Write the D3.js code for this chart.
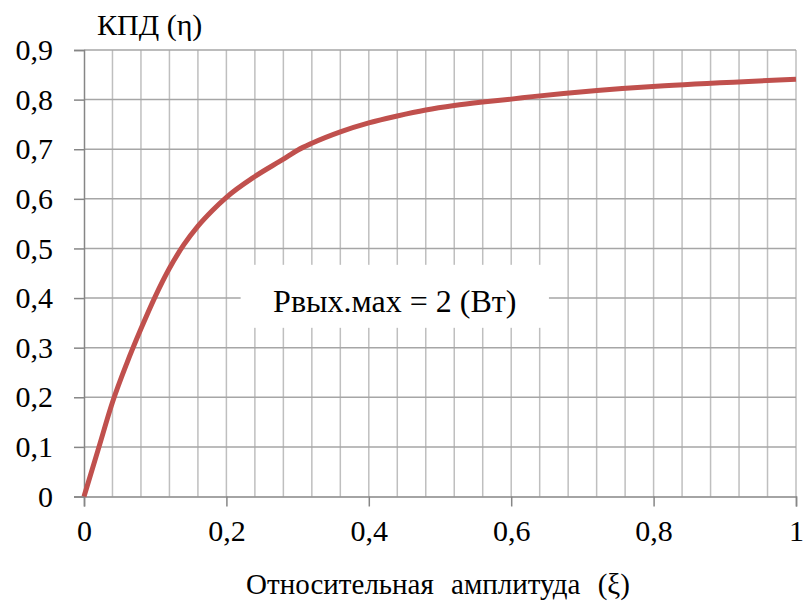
<!DOCTYPE html>
<html>
<head>
<meta charset="UTF-8">
<script src="https://d3js.org/d3.v7.min.js"></script>
</head>
<body style="margin:0">
<script>
    const width = 803;
    const height = 607;
    const FONT = "'Times New Roman'";

    // relative amplitude (xi) and efficiency (eta)
    const xi  = [0, 0.02, 0.04, 0.06, 0.08, 0.10, 0.12, 0.14, 0.16, 0.18, 0.20, 0.24, 0.28, 0.30,
                 0.32, 0.36, 0.40, 0.44, 0.48, 0.52, 0.56, 0.60, 0.63, 1.00];
    const eta = [0, 0.095, 0.19, 0.268, 0.338, 0.403, 0.46, 0.507, 0.545, 0.576, 0.603, 0.645, 0.68, 0.698,
                 0.712, 0.735, 0.753, 0.767, 0.779, 0.788, 0.795, 0.801, 0.806, 0.841];

    const xTicks = [0, 0.2, 0.4, 0.6, 0.8, 1];
    const yTicks = [0, 0.1, 0.2, 0.3, 0.4, 0.5, 0.6, 0.7, 0.8, 0.9];
    const xGrid = d3.range(1, 26).map(i => i * 0.04);

    const yTitle = "КПД (η)";
    const xTitle = "Относительная амплитуда (ξ)";
    const note = "Рвых.мах = 2 (Вт)";

    const fmt = v => String(v).replace(".", ",");

    const x = d3.scaleLinear().domain([0, 1]).range([84, 796]);
    const y = d3.scaleLinear().domain([0, 0.9]).range([496.5, 50]);

    const svg = d3.select("body").append("svg")
            .attr("width", width).attr("height", height);

    // grid
    svg.selectAll("line.grid-v")
        .data(xGrid)
        .enter().append("line")
        .attr("class", "grid-v")
        .attr("stroke", "#bfbfbf").attr("stroke-width", 1.5)
        .attr("x1", d => x(d)).attr("x2", d => x(d))
        .attr("y1", y(0)).attr("y2", y(0.9));

    svg.selectAll("line.grid-h")
        .data(yTicks.slice(1))
        .enter().append("line")
        .attr("class", "grid-h")
        .attr("stroke", "#a6a6a6").attr("stroke-width", 1.5)
        .attr("x1", x(0)).attr("x2", x(1))
        .attr("y1", d => y(d)).attr("y2", d => y(d));

    // axes
    const yAxis = svg.append("g").attr("transform", `translate(${x(0)},0)`)
        .call(d3.axisLeft(y).tickValues(yTicks).tickSize(10).tickFormat(fmt));
    const xAxis = svg.append("g").attr("transform", `translate(0,${y(0)})`)
        .call(d3.axisBottom(x).tickValues(xTicks).tickSize(10).tickFormat(fmt));

    [yAxis, xAxis].forEach(g => {
        g.attr("font-family", FONT).attr("font-size", 30);
        g.select(".domain").attr("stroke", "#868686").attr("stroke-width", 1.5);
        g.selectAll(".tick line").attr("stroke", "#868686").attr("stroke-width", 1.5);
        g.selectAll("text").attr("fill", "#000");
    });
    yAxis.selectAll("text").attr("x", -31).attr("dy", "0.32em");
    xAxis.selectAll("text").attr("y", 22).attr("dy", "0.75em");

    // note box
    const bx = x(0.22), bw = x(0.653) - x(0.22);
    svg.append("rect")
        .attr("x", bx).attr("y", y(0.467))
        .attr("width", bw).attr("height", y(0.34) - y(0.467))
        .attr("fill", "#fff");
    svg.append("text")
        .attr("x", bx + bw / 2).attr("y", y(0.372))
        .attr("text-anchor", "middle")
        .attr("font-family", FONT)
        .attr("font-size", 32)
        .text(note);

    // curve
    const line = d3.line()
        .x(d => x(d[0]))
        .y(d => y(d[1]))
        .curve(d3.curveMonotoneX);

    svg.append("path")
        .datum(xi.map((v, i) => [v, eta[i]]))
        .attr("fill", "none")
        .attr("stroke", "#c0504d")
        .attr("stroke-width", 5)
        .attr("stroke-linejoin", "round")
        .attr("d", line);

    // titles
    svg.append("text")
        .attr("x", 97).attr("y", 35)
        .attr("font-family", FONT)
        .attr("font-size", 30)
        .text(yTitle);

    svg.append("text")
        .attr("x", (x(0) + x(1)) / 2 - 2).attr("y", 594)
        .attr("text-anchor", "middle")
        .attr("font-family", FONT)
        .attr("font-size", 29)
        .attr("word-spacing", 10)
        .text(xTitle);
</script>
</body>
</html>
